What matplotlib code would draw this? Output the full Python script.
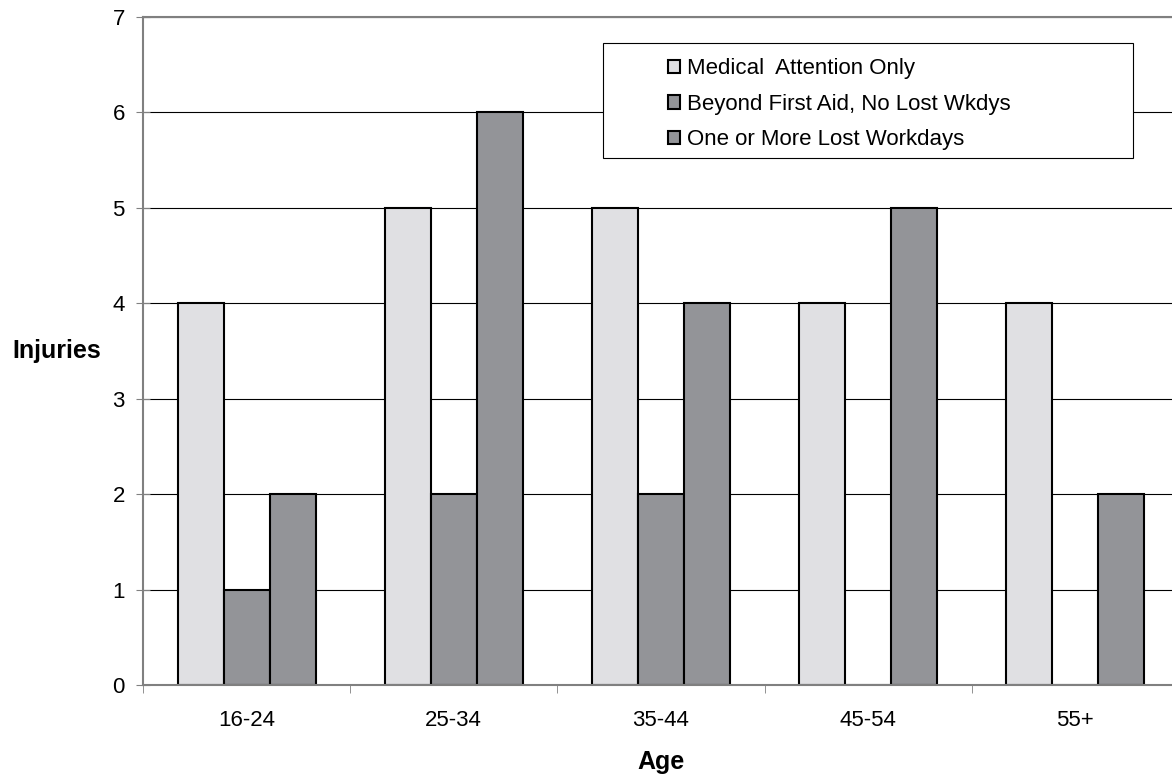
import numpy as np
import matplotlib.pyplot as plt
from matplotlib.patches import Rectangle

# Data
ages = ["16-24", "25-34", "35-44", "45-54", "55+"]
medical_only = [4, 5, 5, 4, 4]
beyond_first_aid = [1, 2, 2, 0, 0]
lost_workdays = [2, 6, 4, 5, 2]
series_names = ["Medical  Attention Only",
                "Beyond First Aid, No Lost Wkdys",
                "One or More Lost Workdays"]

plt.rcParams['font.family'] = ['Liberation Sans', 'DejaVu Sans']

fig = plt.figure(figsize=(11.72, 7.74), dpi=100)
ax = fig.add_axes([0.122, 0.115, 0.884, 0.863])
ax.set_axisbelow(True)

x = np.arange(len(ages))
w = 0.222
colors = ["#e0e0e3", "#939498", "#939498"]
for i, (vals, name) in enumerate(zip([medical_only, beyond_first_aid, lost_workdays], series_names)):
    ax.bar(x + (i - 1) * w, vals, w, color=colors[i], edgecolor="black",
           linewidth=1.5, label=name, zorder=2)

ax.set_xlim(-0.5, 4.5)
ax.set_ylim(0, 7)
ax.set_yticks(range(8))
ax.yaxis.grid(True, color="black", linewidth=0.8)

# ticks: labels centred, tick marks between groups
ax.set_xticks(x)
ax.set_xticklabels(ages)
ax.set_xticks(np.arange(-0.5, 4.6, 1), minor=True)
ax.tick_params(axis="x", which="major", length=0, pad=18, labelsize=16)
ax.tick_params(axis="x", which="minor", length=6, color="#808080", direction="out")
ax.tick_params(axis="y", length=10, color="#808080", direction="inout", pad=8, labelsize=16)

for s in ["top", "left", "bottom"]:
    ax.spines[s].set_color("#808080")
    ax.spines[s].set_linewidth(1.5)
    ax.spines[s].set_zorder(3)
ax.spines["right"].set_visible(False)

ax.set_xlabel("Age", fontsize=18, fontweight="bold", labelpad=14)
ax.set_ylabel("Injuries", fontsize=18, fontweight="bold", rotation=0, labelpad=40, va="center")

# legend with a separate frame box
ax.add_patch(Rectangle((0.444, 0.789), 0.512, 0.172, transform=ax.transAxes,
                       facecolor="white", edgecolor="black", linewidth=0.8, zorder=4))
leg = ax.legend(loc="upper left", bbox_to_anchor=(0.507, 0.938), frameon=False,
                fontsize=16, handlelength=0.55, handleheight=0.55, handletextpad=0.3,
                labelspacing=0.65, borderaxespad=0, borderpad=0)
leg.set_zorder(5)

fig.savefig("out.png", dpi=100)
